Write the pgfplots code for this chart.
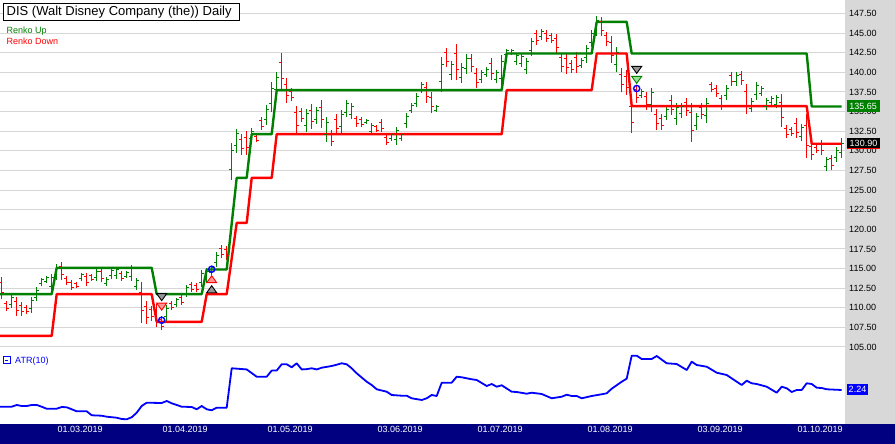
\documentclass[border=0pt]{standalone}
\usepackage{fontspec}
\setmainfont{Liberation Sans}
\usepackage{pgfplots}
\usepackage{pgfplotstable}
\pgfplotsset{compat=1.18}

\definecolor{upg}{RGB}{0,128,0}
\definecolor{dnr}{RGB}{255,0,0}
\definecolor{atrb}{RGB}{0,0,255}
\definecolor{navyband}{RGB}{0,0,128}
\definecolor{panel}{RGB}{216,216,216}
\definecolor{gridc}{RGB}{214,214,214}
\definecolor{pinkf}{RGB}{255,150,150}
\definecolor{lgreenf}{RGB}{150,225,150}
\definecolor{grayf}{RGB}{150,150,150}

% open / close ticks of the bars
\pgfdeclareplotmark{otick}{\pgfpathmoveto{\pgfqpoint{-2.6pt}{0pt}}\pgfpathlineto{\pgfqpoint{0pt}{0pt}}\pgfusepathqstroke}
\pgfdeclareplotmark{ctick}{\pgfpathmoveto{\pgfqpoint{0pt}{0pt}}\pgfpathlineto{\pgfqpoint{2.6pt}{0pt}}\pgfusepathqstroke}
% signal triangles
\pgfdeclareplotmark{dtri}{\pgfpathmoveto{\pgfqpoint{-5pt}{3.5pt}}\pgfpathlineto{\pgfqpoint{5pt}{3.5pt}}\pgfpathlineto{\pgfqpoint{0pt}{-3.5pt}}\pgfpathclose\pgfusepathqfillstroke}
\pgfdeclareplotmark{utri}{\pgfpathmoveto{\pgfqpoint{-5pt}{-3.5pt}}\pgfpathlineto{\pgfqpoint{5pt}{-3.5pt}}\pgfpathlineto{\pgfqpoint{0pt}{3.5pt}}\pgfpathclose\pgfusepathqfillstroke}

% k = bar number (0 = first bar, 16 = 01.03.2019)
\pgfplotstableread{
k o h l c
2 110.44 111.60 109.94 111.27
6 109.92 111.35 109.31 110.94
7 111.37 112.62 110.83 112.26
8 113.06 113.77 112.75 113.57
9 113.40 114.02 113.13 113.84
10 112.67 114.28 111.98 113.82
11 114.12 115.55 113.51 115.14
16 113.69 114.40 113.39 114.20
19 113.85 114.91 113.39 114.61
21 113.09 113.89 112.75 113.66
22 114.06 115.04 113.64 114.76
23 114.10 115.17 113.64 114.86
25 114.04 114.66 113.77 114.48
26 114.00 115.42 113.39 115.01
27 112.70 113.77 112.24 113.46
33 108.90 110.33 108.29 109.92
35 110.42 111.22 110.07 110.99
37 111.81 112.87 111.35 112.57
40 113.27 114.79 112.62 114.36
41 113.70 115.04 113.13 114.66
42 114.50 115.30 114.15 115.07
43 115.74 117.08 115.17 116.70
46 127.67 130.97 126.26 130.03
47 130.62 132.76 129.70 132.15
50 131.54 132.88 130.97 132.50
53 134.03 135.81 133.27 135.30
54 136.07 138.75 134.92 137.98
55 137.79 140.02 136.83 139.38
61 133.25 135.31 132.37 134.72
63 134.04 135.56 133.39 135.13
65 132.06 134.29 131.10 133.65
68 133.13 135.18 132.25 134.59
69 134.94 136.45 134.29 136.02
70 134.64 136.07 134.03 135.66
73 133.58 134.03 133.39 133.90
74 132.45 133.52 131.99 133.21
78 131.54 132.25 131.23 132.05
79 131.41 133.01 130.72 132.55
80 131.54 132.25 131.23 132.05
81 133.46 134.80 132.88 134.42
82 135.18 136.07 134.80 135.82
83 136.09 137.34 135.56 136.98
84 137.76 138.75 137.34 138.47
87 135.19 135.81 134.92 135.63
88 138.81 141.93 137.47 141.04
90 139.73 141.42 139.00 140.94
92 139.39 141.17 138.62 140.66
93 140.53 142.31 139.76 141.80
96 139.12 140.27 138.62 139.94
97 139.76 140.66 139.38 140.40
99 139.12 140.27 138.62 139.94
100 139.24 142.19 137.98 141.35
101 142.24 142.95 141.93 142.75
102 142.42 142.95 142.19 142.80
103 141.37 142.44 140.91 142.13
104 141.19 142.44 140.66 142.08
105 140.37 141.80 139.76 141.39
106 142.75 144.35 142.06 143.89
108 144.52 145.50 144.10 145.22
116 140.91 141.80 140.53 141.55
117 141.86 143.46 141.17 143.00
118 143.85 145.37 143.20 144.94
119 145.38 147.16 144.61 146.65
123 140.97 143.20 140.02 142.56
128 137.05 137.85 136.70 137.62
130 135.84 137.98 134.92 137.37
133 134.40 135.56 133.90 135.23
135 134.11 136.07 133.27 135.51
136 134.73 136.07 134.16 135.69
139 133.28 134.80 132.63 134.37
141 134.47 136.70 133.52 136.06
145 137.02 138.36 136.45 137.98
147 138.77 140.02 138.23 139.66
150 135.45 136.70 134.92 136.34
151 137.14 138.75 136.45 138.29
152 137.34 138.23 136.96 137.98
153 135.64 136.70 135.18 136.40
154 136.16 136.96 135.81 136.73
155 135.93 137.09 135.43 136.76
160 131.88 133.39 131.23 132.96
165 127.94 129.19 127.40 128.83
167 129.12 130.46 128.55 130.08
168 129.83 131.61 129.06 130.90
}\upbars

\pgfplotstableread{
k o h l c
0 113.19 113.89 111.09 111.93
1 110.51 110.83 109.56 109.94
3 110.74 111.35 108.92 109.65
4 110.26 110.71 108.92 109.46
5 110.04 110.33 109.18 109.53
12 115.24 115.81 113.51 114.20
13 113.73 114.02 112.87 113.22
14 113.19 113.51 112.24 112.62
15 113.07 113.26 112.49 112.72
17 113.99 114.40 112.75 113.25
18 114.06 114.28 113.39 113.66
20 114.60 115.04 113.26 113.79
24 114.34 114.66 113.39 113.77
28 111.95 113.26 108.03 109.60
29 110.10 110.83 107.90 108.78
30 109.72 110.20 108.29 108.86
31 109.72 110.45 107.52 108.40
32 108.48 108.92 107.14 107.67
34 110.55 110.83 109.69 110.03
36 111.28 111.60 110.33 110.71
38 112.94 113.26 111.98 112.36
39 112.84 113.13 111.98 112.33
44 117.56 117.97 116.32 116.82
45 117.40 117.85 116.06 116.60
48 131.45 132.12 129.44 130.24
49 131.74 132.50 129.44 130.36
51 131.77 131.99 131.10 131.37
52 133.88 134.29 132.63 133.13
56 141.29 142.44 137.85 139.23
57 138.46 139.26 136.07 137.03
58 137.57 137.98 136.32 136.82
59 134.83 135.69 132.25 133.28
60 134.99 135.43 133.65 134.18
62 135.15 135.94 132.76 133.71
64 135.56 136.45 132.88 133.95
66 132.12 132.63 130.59 131.20
67 134.03 134.67 132.12 132.89
71 134.06 134.41 133.01 133.43
72 133.97 134.29 133.01 133.39
75 133.05 133.27 132.37 132.64
76 133.62 134.03 132.37 132.87
77 131.67 131.99 130.72 131.10
85 138.08 138.75 136.07 136.87
86 136.80 137.47 134.80 135.60
89 142.48 143.08 140.66 141.39
91 142.44 143.59 139.00 140.38
94 141.74 142.31 140.02 140.71
95 139.89 140.53 137.98 138.75
98 141.10 141.80 139.00 139.84
107 144.89 145.37 143.46 144.03
109 144.99 145.37 143.84 144.30
110 144.67 144.99 143.72 144.10
111 144.26 144.86 142.44 143.17
112 141.84 142.44 140.02 140.75
113 141.77 142.44 139.76 140.56
114 141.14 141.55 139.89 140.39
115 141.90 142.57 139.89 140.69
120 146.43 147.03 144.61 145.34
121 144.67 145.12 143.33 143.87
122 143.75 144.61 141.17 142.20
124 139.77 140.53 137.47 138.39
125 139.47 140.27 137.09 138.04
126 135.59 136.70 132.25 133.59
127 137.79 138.36 136.07 136.76
129 136.90 137.47 135.18 135.87
131 134.64 135.31 132.63 133.43
132 134.16 134.67 132.63 133.24
134 136.45 137.09 134.54 135.31
137 136.13 136.70 134.41 135.10
138 134.83 136.07 131.10 132.59
140 135.56 136.07 134.03 134.64
142 138.43 138.75 137.47 137.85
143 137.98 138.36 136.83 137.29
144 136.61 137.09 135.18 135.75
146 139.57 140.02 138.23 138.77
148 139.70 140.15 138.36 138.90
149 137.54 138.49 134.67 135.82
156 136.17 137.22 133.01 134.27
157 132.86 133.27 131.61 132.11
158 132.72 133.01 131.86 132.21
159 133.52 134.16 131.61 132.38
161 133.27 134.67 129.06 130.74
162 130.53 131.10 128.80 129.49
163 130.47 130.72 129.70 130.01
164 130.87 131.35 129.44 130.01
166 128.96 129.44 127.53 128.10
}\downbars

\begin{document}
\begin{tikzpicture}[x=1pt,y=1pt]
\useasboundingbox (0,0) rectangle (895,444);
\fill[white] (0,0) rectangle (895,444);
\fill[panel] (845,20) rectangle (895,444);
\fill[navyband] (0,0) rectangle (895,20);

% price panel
\begin{axis}[
  at={(0pt,97pt)}, anchor=south west,
  scale only axis, width=845pt, height=347pt,
  xmin=-0.34, xmax=168.66, ymin=105, ymax=149.22,
  axis line style={draw=none}, major tick length=0pt,
  xtick=\empty,
  ytick={105,107.5,110,112.5,115,117.5,120,122.5,125,127.5,130,132.5,135,137.5,140,142.5,145,147.5},
  ymajorgrids, grid style={draw=gridc, line width=1pt},
  yticklabel pos=right,
  yticklabel style={anchor=west, inner sep=0pt, xshift=4pt, text=black,
    font=\fontsize{9}{10}\selectfont,
    /pgf/number format/.cd, fixed, fixed zerofill, precision=2, assume math mode=true},
]
% bars: high-low
\addplot[draw=none, mark=none, forget plot,
  error bars/.cd, y dir=plus, y explicit, error mark=none,
  error bar style={line width=1.4pt, draw=upg, solid}]
  table[x=k, y=l, y error plus expr=\thisrow{h}-\thisrow{l}] {\upbars};
\addplot[draw=none, mark=none, forget plot,
  error bars/.cd, y dir=plus, y explicit, error mark=none,
  error bar style={line width=1.4pt, draw=dnr, solid}]
  table[x=k, y=l, y error plus expr=\thisrow{h}-\thisrow{l}] {\downbars};
% open and close ticks
\addplot[upg, only marks, mark=otick, mark options={line width=1pt}] table[x=k, y=o] {\upbars};
\addplot[upg, only marks, mark=ctick, mark options={line width=1pt}] table[x=k, y=c] {\upbars};
\addplot[dnr, only marks, mark=otick, mark options={line width=1pt}] table[x=k, y=o] {\downbars};
\addplot[dnr, only marks, mark=ctick, mark options={line width=1pt}] table[x=k, y=c] {\downbars};

% Renko Up
\addplot[upg, line width=2.4pt, line join=round] coordinates {
  (-0.34,111.74) (10,111.74) (11,115.09) (30,115.09) (31,111.74) (40,111.74)
  (41,114.88) (45,114.88) (47,126.55) (49,126.55) (50,132.12) (54,132.12)
  (55,137.73) (100,137.73) (101,142.40) (118,142.40) (119,146.43) (125,146.43)
  (126,142.40) (161,142.40) (162,135.65) (168,135.65)};
% Renko Down
\addplot[dnr, line width=2.4pt, line join=round] coordinates {
  (-0.34,106.42) (10,106.42) (11,111.74) (30,111.74) (31,108.21) (40,108.21)
  (41,111.74) (45,111.74) (47,120.82) (49,120.82) (50,126.55) (54,126.55)
  (55,132.12) (100,132.12) (101,137.73) (118,137.73) (119,142.40) (125,142.40)
  (126,135.69) (161,135.69) (162,130.90) (168,130.90)};

% signals
\addplot[only marks, mark=dtri, mark options={draw=black, fill=grayf, line width=0.9pt}]
  coordinates {(32,111.35) (127,140.31)};
\addplot[only marks, mark=dtri, mark options={draw=dnr, fill=pinkf, line width=0.9pt}]
  coordinates {(32,110.14)};
\addplot[only marks, mark=dtri, mark options={draw=upg, fill=lgreenf, line width=0.9pt}]
  coordinates {(127,139.04)};
\addplot[only marks, mark=utri, mark options={draw=dnr, fill=pinkf, line width=0.9pt}]
  coordinates {(42,113.64)};
\addplot[only marks, mark=utri, mark options={draw=black, fill=grayf, line width=0.9pt}]
  coordinates {(42,112.36)};
\addplot[only marks, mark=o, mark size=3.1pt, mark options={draw=atrb, line width=1.4pt}]
  coordinates {(32,108.41) (42,114.91) (127,137.94)};
\end{axis}

% ATR panel
\begin{axis}[
  at={(0pt,20pt)}, anchor=south west,
  scale only axis, width=845pt, height=77pt,
  xmin=-0.34, xmax=168.66, ymin=1.05, ymax=3.745,
  axis line style={draw=none}, major tick length=0pt,
  ytick=\empty,
  xtick={16,37,58,80,100,122,144,164},
  xticklabels={01.03.2019,01.04.2019,01.05.2019,03.06.2019,01.07.2019,01.08.2019,03.09.2019,01.10.2019},
  xticklabel style={text=white, anchor=base, yshift=-8.3pt, xshift=-1.5pt,
    font=\fontsize{9}{10}\selectfont},
]
\addplot[atrb, line width=1.8pt, line join=round] coordinates {
  (-0.34,1.655) (2,1.655) (3,1.715) (4,1.68) (5,1.68) (6,1.715) (7,1.715) (8,1.655)
  (9,1.585) (11,1.585) (12,1.645) (13,1.635) (14,1.565) (15,1.495) (17,1.495)
  (18,1.355) (20,1.34) (21,1.305) (23,1.27) (24,1.225) (25,1.215) (26,1.285)
  (27,1.445) (28,1.68) (29,1.795) (32,1.785) (33,1.855) (34,1.775) (36,1.655)
  (38,1.645) (39,1.565) (40,1.68) (41,1.565) (42,1.53) (43,1.62) (45,1.62)
  (46,3.00) (49,2.96) (51,2.705) (53,2.705) (54,2.92) (55,2.92) (56,3.14) (57,3.14)
  (58,3.035) (59,3.175) (60,2.96) (61,2.97) (62,3.00) (63,2.96) (64,3.02) (66,3.08)
  (67,3.125) (68,3.175) (69,3.14) (70,3.00) (71,2.825) (73,2.53) (74,2.415)
  (75,2.265) (77,2.18) (78,2.065) (80,2.04) (81,2.04) (82,1.95) (84,1.89) (85,1.95)
  (86,2.065) (87,2.03) (88,2.495) (90,2.495) (91,2.705) (92,2.685) (94,2.615)
  (95,2.59) (97,2.38) (98,2.45) (99,2.355) (100,2.405) (102,2.18) (103,2.17)
  (105,2.11) (106,2.145) (108,2.10) (110,1.95) (112,2.005) (113,2.075) (114,2.03)
  (115,2.03) (116,1.95) (118,2.03) (120,2.09) (121,2.125) (122,2.285) (124,2.53)
  (125,2.635) (126,3.44) (127,3.44) (128,3.325) (130,3.325) (131,3.43) (133,3.175)
  (135,3.15) (137,2.94) (138,3.23) (139,3.115) (141,3.055) (143,2.845) (145,2.765)
  (147,2.53) (148,2.415) (149,2.565) (150,2.475) (151,2.45) (153,2.355) (155,2.145)
  (156,2.355) (157,2.30) (158,2.17) (159,2.24) (160,2.24) (161,2.475) (162,2.45)
  (163,2.32) (164,2.31) (165,2.265) (168,2.24)};
\end{axis}

% title and legend
\draw[fill=white, line width=1pt] (3.2,440.8) rectangle (239.3,423.2);
\node[anchor=base west, inner sep=0pt, font=\fontsize{13}{15}\selectfont] at (6.5,428.3) {DIS (Walt Disney Company (the)) Daily};
\node[anchor=base west, inner sep=0pt, text=upg, font=\fontsize{9}{10}\selectfont] at (6.5,410.7) {Renko Up};
\node[anchor=base west, inner sep=0pt, text=dnr, font=\fontsize{9}{10}\selectfont] at (6.5,399.7) {Renko Down};
% ATR caption
\draw[atrb, line width=0.8pt] (3,80.3) rectangle (10,87.3);
\draw[atrb, line width=0.8pt] (4.8,83.8) -- (8.2,83.8);
\node[anchor=base west, inner sep=0pt, text=atrb, font=\fontsize{9}{10}\selectfont] at (15,80.3) {ATR(10)};

% last value tags
\fill[upg] (847,332) rectangle (879.5,344);
\node[text=white, inner sep=0pt, font=\fontsize{9}{10}\selectfont] at (863.2,338) {135.65};
\fill[black] (847,295) rectangle (880,306);
\draw[dnr, line width=1pt] (847,295) -- (880,295);
\node[text=white, inner sep=0pt, font=\fontsize{9}{10}\selectfont] at (863.5,300.5) {130.90};
\fill[atrb] (847,49) rectangle (868,60);
\node[text=white, inner sep=0pt, font=\fontsize{9}{10}\selectfont] at (857.5,54.5) {2.24};
\end{tikzpicture}
\end{document}
